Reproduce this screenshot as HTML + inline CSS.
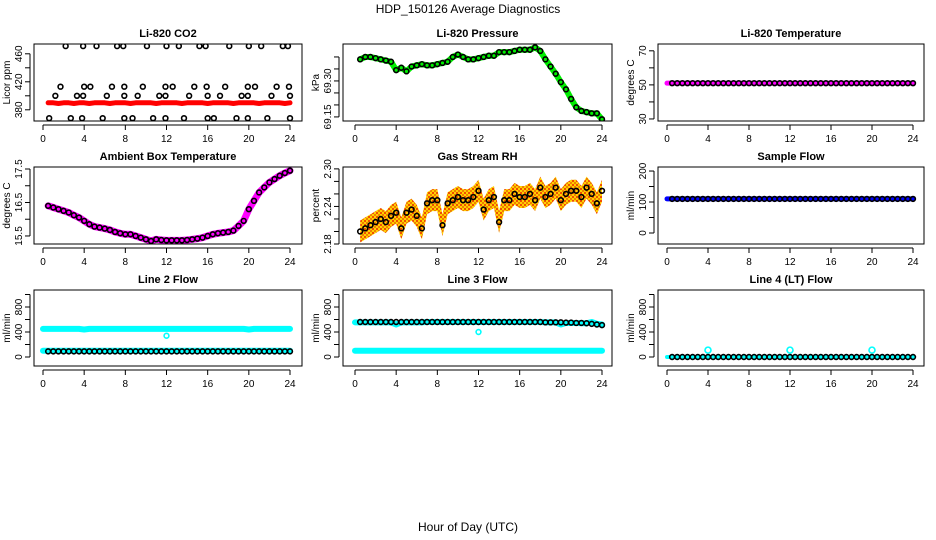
<!DOCTYPE html>
<html><head><meta charset="utf-8"><style>
html,body{margin:0;padding:0;background:#fff;}
svg{display:block;font-family:"Liberation Sans",Arial,sans-serif;}
</style></head><body>
<svg id="chart" width="936" height="540" viewBox="0 0 936 540">
<defs>
<pattern id="rhpat" width="4" height="4" patternUnits="userSpaceOnUse">
<rect width="4" height="4" fill="#ffd000"/><rect x="0" y="0" width="2" height="2" fill="#f05000"/><rect x="2" y="2" width="2" height="2" fill="#f08000"/>
</pattern>
</defs>
<text x="468" y="13" text-anchor="middle" font-size="12">HDP_150126  Average Diagnostics</text>
<text x="468" y="531" text-anchor="middle" font-size="12">Hour of Day (UTC)</text>
</svg>
<script>
// ---- data ----
const hours = [0.5,1,1.5,2,2.5,3,3.5,4,4.5,5,5.5,6,6.5,7,7.5,8,8.5,9,9.5,10,10.5,11,11.5,12,12.5,13,13.5,14,14.5,15,15.5,16,16.5,17,17.5,18,18.5,19,19.5,20,20.5,21,21.5,22,22.5,23,23.5,24];
const co2Hours = [2.2,3.9,5.2,7.2,7.8,10.1,12.0,13.2,15.2,15.8,18.1,20.0,21.2,23.3,23.8, 1.7,4,4.6,6.7,7.9,9.7,11.9,12.6,14.7,15.9,17.7,19.9,20.6,22.7,23.9, 1.2,3.3,3.9,6.2,7.9,9.2,11.3,11.9,14.2,16,17.2,19.3,19.9,22.2,24, 0.6,2.7,3.8,5.8,7.9,8.7,10.7,11.9,13.7,16,16.6,18.8,19.9,21.8,24];
const co2Vals = [471,471,471,471,471,471,471,471,471,471,471,471,471,471,471, 413,413,413,413,413,413,413,413,413,413,413,413,413,413,413, 400,400,400,400,400,400,400,400,400,400,400,400,400,400,400, 368,368,368,368,368,368,368,368,368,368,368,368,368,368,368];
const co2Red = [390,390,389,390,390,389,390,390,389,390,390,390,389,390,390,390,389,390,390,390,390,389,390,390,390,390,389,390,390,390,390,389,390,390,390,390,389,390,390,390,390,389,390,390,390,390,389,390];
const pressure = [69.39,69.40,69.40,69.395,69.39,69.385,69.38,69.345,69.355,69.34,69.36,69.365,69.37,69.365,69.365,69.37,69.375,69.38,69.40,69.41,69.40,69.39,69.39,69.395,69.40,69.405,69.405,69.42,69.42,69.42,69.425,69.43,69.43,69.43,69.44,69.425,69.39,69.36,69.33,69.295,69.265,69.225,69.19,69.175,69.17,69.165,69.165,69.14];
const liTemp = [51,51,51,51,51,51,51,51,51,51,51,51,51,51,51,51,51,51,51,51,51,51,51,51,51,51,51,51,51,51,51,51,51,51,51,51,51,51,51,51,51,51,51,51,51,51,51,51];
const ambient = [16.4,16.35,16.3,16.25,16.2,16.12,16.05,15.95,15.85,15.78,15.75,15.72,15.68,15.62,15.58,15.55,15.55,15.5,15.45,15.4,15.35,15.4,15.38,15.37,15.37,15.37,15.37,15.38,15.4,15.42,15.45,15.5,15.55,15.58,15.6,15.62,15.66,15.8,15.95,16.3,16.55,16.8,16.95,17.1,17.2,17.3,17.38,17.45];
const rh = [2.20,2.205,2.21,2.215,2.22,2.215,2.225,2.23,2.205,2.23,2.235,2.225,2.205,2.245,2.25,2.25,2.21,2.245,2.25,2.255,2.25,2.25,2.255,2.265,2.235,2.25,2.255,2.215,2.25,2.25,2.26,2.255,2.255,2.26,2.25,2.27,2.255,2.26,2.27,2.25,2.26,2.265,2.265,2.255,2.27,2.26,2.245,2.265];
const sampleFlow = [110,110,110,110,110,110,110,110,110,110,110,110,110,110,110,110,110,110,110,110,110,110,110,110,110,110,110,110,110,110,110,110,110,110,110,110,110,110,110,110,110,110,110,110,110,110,110,110];
const line2Hi = [450,450,450,450,450,450,450,440,450,450,450,450,450,450,450,450,450,450,450,450,450,450,450,450,450,450,450,450,450,450,450,450,450,450,450,450,450,450,450,440,450,450,450,450,450,450,450,450];
const line2Lo = [100,100,100,100,100,100,100,100,100,100,100,100,100,100,100,100,100,100,100,100,100,100,100,100,100,100,100,100,100,100,100,100,100,100,100,100,100,100,100,100,100,100,100,100,100,100,100,100];
const line2Black = [90,90,90,90,90,90,90,90,90,90,90,90,90,90,90,90,90,90,90,90,90,90,90,90,90,90,90,90,90,90,90,90,90,90,90,90,90,90,90,90,90,90,90,90,90,90,90,90];
const line3Cyan = [555,555,555,555,555,555,555,520,555,555,555,555,555,560,560,560,560,560,560,560,560,560,560,560,560,560,560,560,560,560,560,560,560,560,560,560,555,555,555,520,545,545,545,540,540,560,530,520];
const line3Lo = [100,100,100,100,100,100,100,100,100,100,100,100,100,100,100,100,100,100,100,100,100,100,100,100,100,100,100,100,100,100,100,100,100,100,100,100,100,100,100,100,100,100,100,100,100,100,100,100];
const line3Black = [560,560,560,560,560,560,560,560,560,560,560,560,560,560,560,560,560,560,560,560,560,560,560,560,560,560,560,560,560,560,560,560,560,560,560,560,555,555,555,555,550,550,545,545,540,530,520,510];
const line4 = [0,0,0,0,0,0,0,0,0,0,0,0,0,0,0,0,0,0,0,0,0,0,0,0,0,0,0,0,0,0,0,0,0,0,0,0,0,0,0,0,0,0,0,0,0,0,0,0];
const line4SpikeHours = [4,12,20];
const line4SpikeVals = [110,110,110];
const xTicks = [0,4,8,12,16,20,24];

// ---- layout ----
const svg = document.getElementById('chart');
const NS = 'http://www.w3.org/2000/svg';
const colL = [34,343,658], colR = [302,612,924], colX0 = [43,355,667], colX24 = [290,602,913];
const rowT = [44,167,290], rowB = [121,244,366];
function mk(tag, attrs, parent){const e=document.createElementNS(NS,tag);for(const k in attrs)e.setAttribute(k,attrs[k]);(parent||svg).appendChild(e);return e;}

function panel(cfg){
  const c=cfg.col,r=cfg.row;
  const g=mk('g',{});
  
  
  const X=h=>colX0[c]+(h/24)*(colX24[c]-colX0[c]);
  const Y=v=>rowB[r]-(v-cfg.lo)/(cfg.hi-cfg.lo)*(rowB[r]-rowT[r]);
  const t=mk('text',{x:(colL[c]+colR[c])/2,y:rowT[r]-7,'text-anchor':'middle','font-size':11,'font-weight':'bold'},g);
  t.textContent=cfg.title;
  
  
  const clip='clip'+c+r;
  const cp=mk('clipPath',{id:clip},g);mk('rect',{x:colL[c],y:rowT[r],width:colR[c]-colL[c],height:rowB[r]-rowT[r]},cp);
  const pg=mk('g',{'clip-path':'url(#'+clip+')'},g);
  cfg.draw(pg,X,Y);
  const box=mk('rect',{x:colL[c],y:rowT[r],width:colR[c]-colL[c],height:rowB[r]-rowT[r],fill:'none',stroke:'#000','stroke-width':1},g);
  
  
  const xa=mk('g',{},g);
  
  
  mk('line',{x1:X(0),x2:X(24),y1:rowB[r]+4,y2:rowB[r]+4,stroke:'#000'},xa);
  xTicks.forEach(h=>{mk('line',{x1:X(h),x2:X(h),y1:rowB[r]+4,y2:rowB[r]+9,stroke:'#000'},xa);
    const tl=mk('text',{x:X(h),y:rowB[r]+21,'text-anchor':'middle','font-size':10},xa);tl.textContent=h;});
  const ya=mk('g',{},g);
  
  
  const ax=colL[c]-4;
  mk('line',{x1:ax,x2:ax,y1:Y(cfg.ticks[0]),y2:Y(cfg.ticks[cfg.ticks.length-1]),stroke:'#000'},ya);
  cfg.ticks.forEach(v=>{mk('line',{x1:ax-5,x2:ax,y1:Y(v),y2:Y(v),stroke:'#000'},ya);});
  cfg.labels.forEach(v=>{const y=Y(v);const tl=mk('text',{x:ax-8,y:y,'text-anchor':'middle','font-size':10,transform:'rotate(-90 '+(ax-8)+' '+y+')'},ya);tl.textContent=v.toFixed(cfg.dec);});
  const ym=(rowT[r]+rowB[r])/2, yx=colL[c]-24;
  const yt=mk('text',{x:yx,y:ym,'text-anchor':'middle','font-size':10,transform:'rotate(-90 '+yx+' '+ym+')'},g);
  yt.textContent=cfg.ylab;
  
  
}
function band(pg,X,Y,hs,vs,color,w){
  const p=mk('polyline',{points:hs.map((h,i)=>X(h)+','+Y(vs[i])).join(' '),fill:'none',stroke:color,'stroke-width':w,'stroke-linejoin':'round','stroke-linecap':'round'},pg);
  
  
}
function pts(pg,X,Y,hs,vs,color,rad){
  hs.forEach((h,i)=>{const c=mk('circle',{cx:X(h),cy:Y(vs[i]),r:rad||2.4,fill:'none',stroke:color||'#000','stroke-width':1.6},pg);
    
    });
}

panel({name:'panel-co2',col:0,row:0,title:'Li-820 CO2',ylab:'Licor ppm',lo:364,hi:474,ticks:[380,400,420,440,460],labels:[380,420,460],dec:0,
  draw:(g,X,Y)=>{band(g,X,Y,hours,co2Red,'#ff0000',5);pts(g,X,Y,co2Hours,co2Vals,'#000');}});
panel({name:'panel-pressure',col:1,row:0,title:'Li-820 Pressure',ylab:'kPa',lo:69.133,hi:69.454,ticks:[69.15,69.2,69.25,69.3,69.35,69.4],labels:[69.15,69.30],dec:2,
  draw:(g,X,Y)=>{band(g,X,Y,hours,pressure,'#00ee00',6);pts(g,X,Y,hours,pressure,'#000');}});
panel({name:'panel-li820-temperature',col:2,row:0,title:'Li-820 Temperature',ylab:'degrees C',lo:28.8,hi:74,ticks:[30,40,50,60,70],labels:[30,50,70],dec:0,
  draw:(g,X,Y)=>{band(g,X,Y,[0].concat(hours),[51].concat(liTemp),'#ff00ff',5);pts(g,X,Y,hours,liTemp,'#000');}});
panel({name:'panel-ambient-temperature',col:0,row:1,title:'Ambient Box Temperature',ylab:'degrees C',lo:15.26,hi:17.56,ticks:[15.5,16,16.5,17,17.5],labels:[15.5,16.5,17.5],dec:1,
  draw:(g,X,Y)=>{band(g,X,Y,hours,ambient,'#ff00ff',7);pts(g,X,Y,hours,ambient,'#000');}});
panel({name:'panel-gas-rh',col:1,row:1,title:'Gas Stream RH',ylab:'percent',lo:2.18,hi:2.303,ticks:[2.18,2.2,2.22,2.24,2.26,2.28,2.3],labels:[2.18,2.24,2.30],dec:2,
  draw:(g,X,Y)=>{
    const up=hours.map((h,i)=>X(h)+','+(Y(rh[i])-11)).join(' ');
    const dn=hours.slice().reverse().map((h,j)=>X(h)+','+(Y(rh[rh.length-1-j])+11)).join(' ');
    const p=mk('polygon',{points:up+' '+dn,fill:'url(#rhpat)',stroke:'none'},g);
    
    
    pts(g,X,Y,hours,rh,'#000');}});
panel({name:'panel-sample-flow',col:2,row:1,title:'Sample Flow',ylab:'ml/min',lo:-35.5,hi:213,ticks:[0,50,100,150,200],labels:[0,100,200],dec:0,
  draw:(g,X,Y)=>{band(g,X,Y,[0].concat(hours),[110].concat(sampleFlow),'#0000ff',5);pts(g,X,Y,hours,sampleFlow,'#000');}});
panel({name:'panel-line2-flow',col:0,row:2,title:'Line 2 Flow',ylab:'ml/min',lo:-144,hi:1072,ticks:[0,200,400,600,800,1000],labels:[0,400,800],dec:0,
  draw:(g,X,Y)=>{band(g,X,Y,[0].concat(hours),[450].concat(line2Hi),'#00ffff',6);band(g,X,Y,[0].concat(hours),[100].concat(line2Lo),'#00ffff',6);pts(g,X,Y,[12],[340],'#00ffff');pts(g,X,Y,hours,line2Black,'#000');}});
panel({name:'panel-line3-flow',col:1,row:2,title:'Line 3 Flow',ylab:'ml/min',lo:-144,hi:1072,ticks:[0,200,400,600,800,1000],labels:[0,400,800],dec:0,
  draw:(g,X,Y)=>{band(g,X,Y,[0].concat(hours),[555].concat(line3Cyan),'#00ffff',6);band(g,X,Y,[0].concat(hours),[100].concat(line3Lo),'#00ffff',6);pts(g,X,Y,[12],[400],'#00ffff');pts(g,X,Y,hours,line3Black,'#000');}});
panel({name:'panel-line4-flow',col:2,row:2,title:'Line 4 (LT) Flow',ylab:'ml/min',lo:-144,hi:1072,ticks:[0,200,400,600,800,1000],labels:[0,400,800],dec:0,
  draw:(g,X,Y)=>{band(g,X,Y,[0].concat(hours),[0].concat(line4),'#00ffff',4);pts(g,X,Y,line4SpikeHours,line4SpikeVals,'#00ffff',3);pts(g,X,Y,hours,line4,'#000');}});
</script>
</body></html>
